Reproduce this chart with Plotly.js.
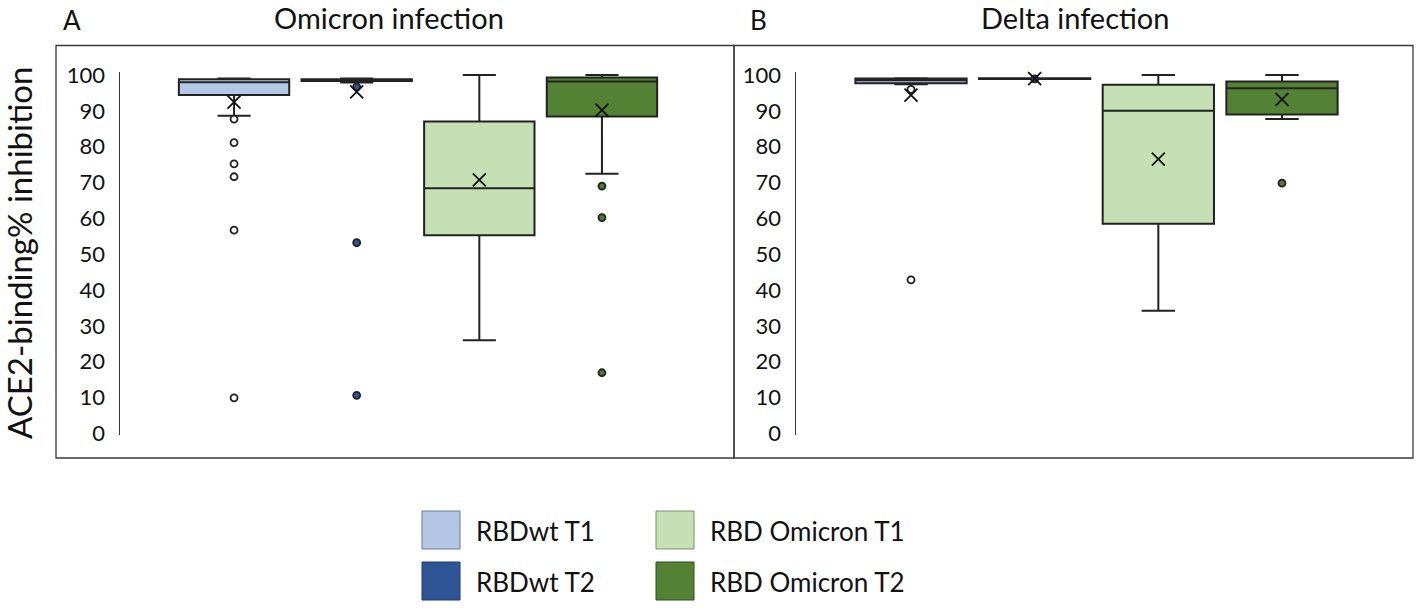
<!DOCTYPE html>
<html><head><meta charset="utf-8">
<script src="https://cdn.plot.ly/plotly-3.0.1.min.js"></script>
<style>html,body{margin:0;padding:0;background:#fff}#c{width:1417px;height:611px}</style>
</head><body><div id="c"></div>
<script>
// ---- data ----
const series = ["RBDwt T1", "RBDwt T2", "RBD Omicron T1", "RBD Omicron T2"];
const positions = [1, 2, 3, 4];
// Panel A: Omicron infection
const omiQ1 = [94.4, 98.3, 55.3, 88.4];
const omiMedian = [98.0, 98.6, 68.4, 98.2];
const omiQ3 = [98.8, 98.8, 87.0, 99.3];
const omiLow = [88.6, 97.9, 26.0, 72.4];
const omiHigh = [99.0, 99.0, 100.0, 100.0];
const omiMean = [92.4, 95.3, 70.7, 90.2];
const omiOutliers = [
  [87.7, 81.1, 75.2, 71.6, 56.7, 9.9],
  [96.7, 53.2, 10.6],
  [],
  [69.0, 60.2, 16.9]
];
// Panel B: Delta infection
const delQ1 = [97.7, 98.9, 58.5, 89.0];
const delMedian = [98.5, 99.0, 90.0, 96.3];
const delQ3 = [99.0, 99.1, 97.3, 98.2];
const delLow = [97.4, 98.9, 34.2, 87.7];
const delHigh = [99.1, 99.1, 100.0, 100.0];
const delMean = [94.4, 99.0, 76.5, 93.2];
const delOutliers = [
  [96.0, 42.8],
  [98.9],
  [],
  [69.8]
];
const yTicks = [0, 10, 20, 30, 40, 50, 60, 70, 80, 90, 100];

// ---- styles ----
const fills = ["#B4C7E7", "#2F5597", "#C5E0B4", "#548235"];
const outlierFill = ["#FFFFFF", "#2F5597", "#FFFFFF", "#4f7a32"];
const edge = "#222222";
const W = 1417, H = 611;
const px = x => x / W;
const py = y => 1 - y / H;
const FONT = "Lato, 'Open Sans', sans-serif";

const traces = [];
function addPanel(q1, med, q3, lo, hi, mean, outs, xa, ya) {
  for (let i = 0; i < series.length; i++) {
    traces.push({
      type: "box", name: series[i], x: [positions[i]],
      q1: [q1[i]], median: [med[i]], q3: [q3[i]],
      lowerfence: [lo[i]], upperfence: [hi[i]],
      width: 0.9, whiskerwidth: 0.3, boxpoints: false,
      fillcolor: fills[i], line: {color: edge, width: 2},
      xaxis: xa, yaxis: ya, showlegend: false, hoverinfo: "skip"
    });
    if (outs[i].length) {
      traces.push({
        type: "scatter", mode: "markers", x: outs[i].map(() => positions[i]), y: outs[i],
        marker: {symbol: "circle", size: 7, color: outlierFill[i], line: {color: edge, width: 1.8}},
        xaxis: xa, yaxis: ya, showlegend: false, cliponaxis: false, hoverinfo: "skip"
      });
    }
  }
  traces.push({
    type: "scatter", mode: "markers", x: positions, y: mean,
    marker: {symbol: "x-thin-open", size: 13, color: "#111", line: {color: "#111", width: 1.8}},
    xaxis: xa, yaxis: ya, showlegend: false, cliponaxis: false, hoverinfo: "skip"
  });
}
addPanel(omiQ1, omiMedian, omiQ3, omiLow, omiHigh, omiMean, omiOutliers, "x", "y");
addPanel(delQ1, delMedian, delQ3, delLow, delHigh, delMean, delOutliers, "x2", "y2");

const yr = [-0.5, 100.8];
const yDom = [py(435.1), py(72.1)];
const yaxisBase = {
  range: yr, domain: yDom, tickvals: yTicks, ticktext: yTicks.map(String),
  showgrid: false, zeroline: false, showline: true, linecolor: "#3a3a3a", linewidth: 1.5,
  ticks: "outside", ticklen: 9, tickcolor: "rgba(0,0,0,0)",
  tickfont: {family: FONT, size: 22, color: "#111"}, fixedrange: true
};
const xaxisBase = {range: [0.07, 4.93], visible: false, fixedrange: true};

const shapes = [
  {type: "rect", xref: "paper", yref: "paper", x0: px(56), x1: px(734), y0: py(458), y1: py(45.5), line: {color: "#3a3a3a", width: 1.3}},
  {type: "rect", xref: "paper", yref: "paper", x0: px(734), x1: px(1413), y0: py(458), y1: py(45.5), line: {color: "#3a3a3a", width: 1.3}}
];
const annotations = [
  {text: "Omicron infection", x: px(389), y: py(17), xref: "paper", yref: "paper", showarrow: false, xanchor: "center", yanchor: "middle", font: {family: FONT, size: 29, color: "#111"}},
  {text: "Delta infection", x: px(1075), y: py(17), xref: "paper", yref: "paper", showarrow: false, xanchor: "center", yanchor: "middle", font: {family: FONT, size: 29, color: "#111"}},
  {text: "A", x: px(61), y: py(20), xref: "paper", yref: "paper", showarrow: false, xanchor: "left", yanchor: "middle", font: {family: FONT, size: 26, color: "#111"}},
  {text: "B", x: px(748), y: py(20), xref: "paper", yref: "paper", showarrow: false, xanchor: "left", yanchor: "middle", font: {family: FONT, size: 26, color: "#111"}},
  {text: "ACE2-binding% inhibition", x: px(19), y: py(253), xref: "paper", yref: "paper", showarrow: false, textangle: -90, xanchor: "center", yanchor: "middle", font: {family: FONT, size: 33, color: "#111"}}
];
// legend (2 columns)
const legX = [422, 656], legY = [511, 562], sq = 38;
const legEdge = ["#6b7a8c", "#1f3a6b", "#7d8f70", "#2f4a1f"];
for (let i = 0; i < series.length; i++) {
  const col = i < 2 ? 0 : 1, row = i % 2;
  const x0 = legX[col], y0 = legY[row];
  shapes.push({type: "rect", xref: "paper", yref: "paper", x0: px(x0), x1: px(x0 + sq), y0: py(y0 + sq), y1: py(y0), fillcolor: fills[i], line: {color: legEdge[i], width: 1}});
  annotations.push({text: series[i], x: px(x0 + sq + 14), y: py(y0 + sq / 2 + 1), xref: "paper", yref: "paper", showarrow: false, xanchor: "left", yanchor: "middle", font: {family: FONT, size: 26, color: "#111"}});
}

const layout = {
  width: W, height: H, margin: {l: 0, r: 0, t: 0, b: 0},
  paper_bgcolor: "#fff", plot_bgcolor: "rgba(0,0,0,0)", showlegend: false,
  xaxis: Object.assign({}, xaxisBase, {domain: [px(120), px(716)], anchor: "y"}),
  xaxis2: Object.assign({}, xaxisBase, {domain: [px(796), px(1397)], anchor: "y2"}),
  yaxis: Object.assign({}, yaxisBase, {anchor: "x"}),
  yaxis2: Object.assign({}, yaxisBase, {anchor: "x2"}),
  shapes: shapes, annotations: annotations
};
Plotly.newPlot("c", traces, layout, {displayModeBar: false, staticPlot: true});
</script></body></html>
